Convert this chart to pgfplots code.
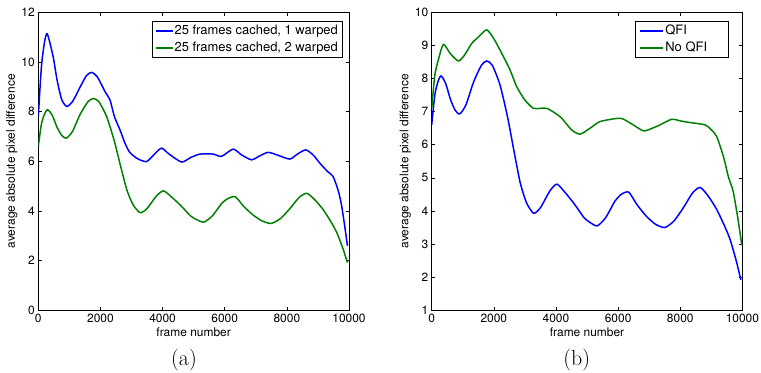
\documentclass[border=0pt]{standalone}
\usepackage{fontspec}
\usepackage{pgfplots}
\pgfplotsset{compat=1.18}
\setsansfont{TeX Gyre Heros}
\definecolor{mblue}{RGB}{0,0,255}
\definecolor{mgreen}{RGB}{0,128,0}

\begin{document}
\begin{tikzpicture}
\useasboundingbox (0bp,0bp) rectangle (761bp,373bp);
\pgfplotsset{
  myax/.style={
    scale only axis, width=310.7bp, height=298bp,
    xmin=0, xmax=10000, xtick={0,2000,...,10000},
    scaled x ticks=false, scaled y ticks=false,
    /pgf/number format/1000 sep={},
    /pgf/number format/assume math mode=true,
    tick align=inside, major tick length=3.5bp,
    tick style={line width=0.6pt, black},
    axis line style={line width=0.8pt},
    font=\sffamily\fontsize{12}{14}\selectfont,
    every tick label/.append style={font=\sffamily\fontsize{12}{14}\selectfont},
    every axis x label/.style={at={(rel axis cs:0.5,0)}, yshift=-22.4bp, anchor=center},
    every axis y label/.style={at={(rel axis cs:0,0.5)}, xshift=-26.5bp, rotate=90, anchor=center},
    xlabel={frame number},
    ylabel={average absolute pixel difference},
    legend cell align=left,
    legend style={font=\sffamily\fontsize{13}{15}\selectfont, draw=black, line width=0.6pt, fill=white,
      inner xsep=3bp, inner ysep=1.5bp,
      nodes={inner xsep=1bp, inner ysep=1.5bp, text height=10bp, text depth=3bp}, row sep=1bp},
  },
  myline/.style={line width=1.5pt, smooth, tension=0.4, no marks},
}

\begin{axis}[myax, at={(38.3bp,62.7bp)}, anchor=south west,
  ymin=0, ymax=12, ytick={0,2,...,12},
  legend image code/.code={\draw[#1, line width=2bp] (0,0) -- (16.7bp,0);},
  legend style={at={(0.978,0.971)}, anchor=north east}]
\addplot[myline, mblue] coordinates {
(0,7.8) (100,9.8) (200,10.8) (290,11.13) (480,10.2) (600,9.3) (750,8.5) (913,8.21)
(1100,8.4) (1350,9.0) (1550,9.45) (1717,9.58) (1900,9.4) (2150,8.8) (2305,8.48)
(2450,7.8) (2627,7.27) (2800,6.7) (2950,6.35) (3200,6.1) (3485,5.99) (3750,6.3)
(3967,6.53) (4200,6.3) (4611,5.97) (4900,6.15) (5200,6.29) (5627,6.29) (5897,6.2)
(6270,6.49) (6550,6.25) (6862,6.06) (7100,6.2) (7395,6.36) (7700,6.25) (8093,6.09)
(8350,6.3) (8608,6.46) (8850,6.25) (9058,5.93) (9300,5.6) (9486,5.39) (9646,4.85)
(9750,4.3) (9850,3.5) (9950,2.6)};
\addlegendentry{25 frames cached, 1 warped}
\addplot[myline, mgreen] coordinates {
(0,6.6) (100,7.5) (200,7.9) (300,8.08) (450,7.85) (600,7.38) (750,7.05) (900,6.93) (1100,7.2)
(1350,7.9) (1600,8.4) (1770,8.53) (1950,8.4) (2200,7.8) (2450,6.8) (2650,5.8)
(2850,4.85) (3050,4.25) (3280,3.93) (3500,4.1) (3800,4.6) (4030,4.81) (4300,4.55)
(4600,4.2) (4900,3.8) (5100,3.65) (5330,3.55) (5600,3.8) (5900,4.3) (6100,4.5)
(6340,4.57) (6600,4.2) (6900,3.85) (7200,3.6) (7500,3.5) (7800,3.7) (8100,4.1)
(8400,4.55) (8640,4.71) (8900,4.45) (9170,4.05) (9400,3.6) (9600,3.15) (9800,2.5)
(9950,1.92)};
\addlegendentry{25 frames cached, 2 warped}
\end{axis}

\begin{axis}[myax, at={(431.7bp,62.7bp)}, anchor=south west,
  ymin=1, ymax=10, ytick={1,2,...,10},
  legend image code/.code={\draw[#1, line width=2bp] (0,0) -- (23bp,0);},
  legend style={at={(0.955,0.971)}, anchor=north east, inner xsep=4bp}]
\addplot[myline, mblue] coordinates {
(0,6.6) (100,7.5) (200,7.9) (300,8.08) (450,7.85) (600,7.38) (750,7.05) (900,6.93) (1100,7.2)
(1350,7.9) (1600,8.4) (1770,8.53) (1950,8.4) (2200,7.8) (2450,6.8) (2650,5.8)
(2850,4.85) (3050,4.25) (3280,3.93) (3500,4.1) (3800,4.6) (4030,4.81) (4300,4.55)
(4600,4.2) (4900,3.8) (5100,3.65) (5330,3.55) (5600,3.8) (5900,4.3) (6100,4.5)
(6340,4.57) (6600,4.2) (6900,3.85) (7200,3.6) (7500,3.5) (7800,3.7) (8100,4.1)
(8400,4.55) (8640,4.71) (8900,4.45) (9170,4.05) (9400,3.6) (9600,3.15) (9800,2.5)
(9950,1.92)};
\addlegendentry{QFI}
\addplot[myline, mgreen] coordinates {
(0,7.1) (100,8.1) (213,8.56) (375,9.03) (600,8.75) (858,8.53) (1050,8.7) (1288,9.06)
(1500,9.25) (1771,9.47) (2000,9.2) (2254,8.76) (2521,8.26) (2737,7.75) (3000,7.35)
(3272,7.1) (3500,7.1) (3702,7.1) (3950,6.97) (4185,6.8) (4500,6.45) (4775,6.32)
(5100,6.5) (5419,6.7) (6063,6.8) (6400,6.65) (6813,6.42) (7100,6.5) (7350,6.6)
(7727,6.77) (8000,6.72) (8316,6.67) (8799,6.6) (9000,6.45) (9176,6.24) (9390,5.64)
(9549,5.03) (9700,4.6) (9850,3.8) (9981,2.97)};
\addlegendentry{No QFI\hspace*{16bp}}
\end{axis}

\node[font=\fontsize{22}{26}\selectfont] at (184bp,13bp) {(a)};
\node[font=\fontsize{22}{26}\selectfont] at (576.7bp,13bp) {(b)};
\end{tikzpicture}
\end{document}
